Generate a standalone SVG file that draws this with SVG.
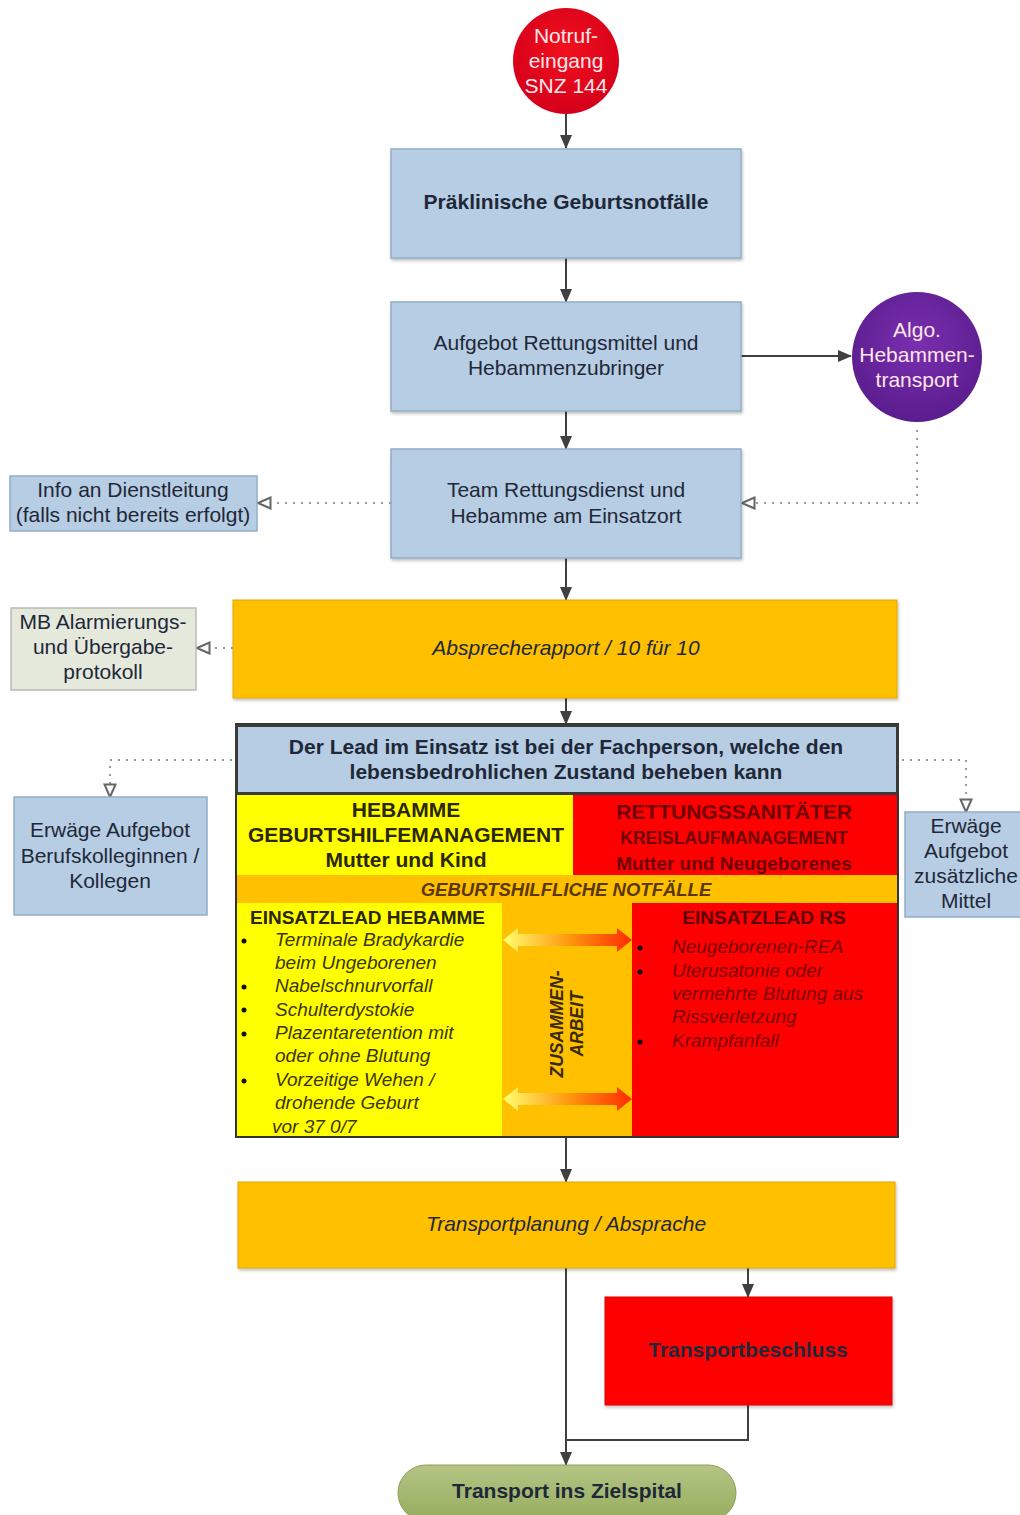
<svg xmlns="http://www.w3.org/2000/svg" width="1020" height="1515" viewBox="0 0 1020 1515">
<defs>
<marker id="ah" markerUnits="userSpaceOnUse" markerWidth="14" markerHeight="12" refX="13" refY="6" orient="auto">
<path d="M0,0 L14,6 L0,12 z" fill="#404040"/>
</marker>
<marker id="oh" markerUnits="userSpaceOnUse" markerWidth="16" markerHeight="14" refX="14" refY="7" orient="auto">
<path d="M1.5,1.5 L14,7 L1.5,12.5 z" fill="#fff" stroke="#666" stroke-width="2"/>
</marker>
<radialGradient id="gRed" cx="50%" cy="40%" r="60%">
<stop offset="0" stop-color="#f2101e"/><stop offset="1" stop-color="#d4001a"/>
</radialGradient>
<radialGradient id="gPur" cx="50%" cy="40%" r="60%">
<stop offset="0" stop-color="#7a2fb0"/><stop offset="1" stop-color="#5a1d8e"/>
</radialGradient>
<linearGradient id="gArr" x1="0" y1="0" x2="1" y2="0">
<stop offset="0" stop-color="#ffff70"/><stop offset="0.5" stop-color="#ff9a10"/><stop offset="1" stop-color="#ff2a00"/>
</linearGradient>
<linearGradient id="gGreen" x1="0" y1="0" x2="0" y2="1">
<stop offset="0" stop-color="#b4c585"/><stop offset="1" stop-color="#97ac5e"/>
</linearGradient>
<filter id="sh" x="-5%" y="-5%" width="110%" height="115%">
<feDropShadow dx="1" dy="2" stdDeviation="1.5" flood-color="#000" flood-opacity="0.25"/>
</filter>
</defs>
<style>
text{font-family:"Liberation Sans",Arial,sans-serif;}
.blue{fill:#b7cde3;stroke:#93adc8;stroke-width:1.5;}
.orange{fill:#ffc000;stroke:#e0a800;stroke-width:1;}
.bt{font-size:21px;fill:#1e2838;text-anchor:middle;}
.sm{font-size:21px;fill:#1e2838;text-anchor:middle;}
.b{font-weight:bold;}
.it{font-style:italic;}
.ct{font-size:21px;fill:#ffe6ea;text-anchor:middle;}
.li{font-size:19px;font-style:italic;fill:#3b3500;}
.lr{font-size:19px;font-style:italic;fill:#7a0000;}
.dot{fill:#111;}
.con{fill:none;stroke:#404040;stroke-width:2;}
.dash{fill:none;stroke:#999;stroke-width:2;stroke-dasharray:2 6;}
</style>

<g id="connectors">
<path class="con" d="M566,114 V148" marker-end="url(#ah)"/>
<path class="con" d="M566,258 V302" marker-end="url(#ah)"/>
<path class="con" d="M741,356 H851" marker-end="url(#ah)"/>
<path class="con" d="M566,411 V449" marker-end="url(#ah)"/>
<path class="con" d="M566,558 V600" marker-end="url(#ah)"/>
<path class="con" d="M566,698 V724" marker-end="url(#ah)"/>
<path class="con" d="M566,1138 V1182" marker-end="url(#ah)"/>
<path class="con" d="M748,1268 V1297" marker-end="url(#ah)"/>
<path class="con" d="M566,1268 V1465" marker-end="url(#ah)"/>
<path class="con" d="M748,1405 V1440 H566"/>
<path class="dash" d="M917,430 V503 H742" marker-end="url(#oh)"/>
<path class="dash" d="M391,503 H258" marker-end="url(#oh)"/>
<path class="dash" d="M233,648 H197" marker-end="url(#oh)"/>
<path class="dash" d="M232,760 H110 V797" marker-end="url(#oh)"/>
<path class="dash" d="M902,760 H966 V812" marker-end="url(#oh)"/>
</g>

<g id="notruf">
<circle cx="566" cy="61" r="53" fill="url(#gRed)"/>
<text class="ct" x="566" y="43">Notruf-</text>
<text class="ct" x="566" y="68">eingang</text>
<text class="ct" x="566" y="93">SNZ 144</text>
</g>

<g id="praeklinisch">
<rect class="blue" x="391" y="149" width="350" height="109" filter="url(#sh)"/>
<text class="bt b" x="566" y="209">Präklinische Geburtsnotfälle</text>
</g>

<g id="aufgebot">
<rect class="blue" x="391" y="302" width="350" height="109" filter="url(#sh)"/>
<text class="bt" x="566" y="350">Aufgebot Rettungsmittel und</text>
<text class="bt" x="566" y="375">Hebammenzubringer</text>
</g>

<g id="algo">
<circle cx="917" cy="357" r="65" fill="url(#gPur)"/>
<text class="ct" x="917" y="337">Algo.</text>
<text class="ct" x="917" y="362">Hebammen-</text>
<text class="ct" x="917" y="387">transport</text>
</g>

<g id="team">
<rect class="blue" x="391" y="449" width="350" height="109" filter="url(#sh)"/>
<text class="bt" x="566" y="497">Team Rettungsdienst und</text>
<text class="bt" x="566" y="523">Hebamme am Einsatzort</text>
</g>

<g id="info">
<rect class="blue" x="10" y="476" width="247" height="55"/>
<text class="sm" x="133" y="497">Info an Dienstleitung</text>
<text class="sm" x="133" y="522">(falls nicht bereits erfolgt)</text>
</g>

<g id="absprache">
<rect class="orange" x="233" y="600" width="664" height="98" filter="url(#sh)"/>
<text class="bt it" x="566" y="655" fill="#3a2a00">Absprecherapport / 10 für 10</text>
</g>

<g id="mb">
<rect x="11" y="608" width="185" height="82" fill="#e5e9dc" stroke="#b8bcae" stroke-width="1.5"/>
<text class="sm" x="103" y="629" fill="#222">MB Alarmierungs-</text>
<text class="sm" x="103" y="654" fill="#222">und Übergabe-</text>
<text class="sm" x="103" y="679" fill="#222">protokoll</text>
</g>

<g id="lead">
<rect x="237" y="795" width="336" height="80" fill="#ffff00"/>
<rect x="573" y="795" width="324" height="80" fill="#ff0000"/>
<rect x="237" y="875" width="660" height="28" fill="#ffc000"/>
<rect x="237" y="903" width="265" height="234" fill="#ffff00"/>
<rect x="502" y="903" width="130" height="234" fill="#ffc000"/>
<rect x="632" y="903" width="265" height="234" fill="#ff0000"/>
<rect x="236" y="724" width="662" height="413" fill="none" stroke="#333" stroke-width="2"/>
<rect x="236.5" y="725.5" width="661" height="68" fill="#b7cde3" stroke="#3a3a3a" stroke-width="3"/>
<text class="b" x="566" y="754" font-size="21" fill="#1e2838" text-anchor="middle">Der Lead im Einsatz ist bei der Fachperson, welche den</text>
<text class="b" x="566" y="779" font-size="21" fill="#1e2838" text-anchor="middle">lebensbedrohlichen Zustand beheben kann</text>
<text class="b" x="406" y="817" font-size="21" fill="#2a2600" text-anchor="middle">HEBAMME</text>
<text class="b" x="406" y="842" font-size="21" fill="#2a2600" text-anchor="middle">GEBURTSHILFEMANAGEMENT</text>
<text class="b" x="406" y="867" font-size="21" fill="#2a2600" text-anchor="middle">Mutter und Kind</text>
<text class="b" x="734" y="819" font-size="21" fill="#6e0000" text-anchor="middle">RETTUNGSSANITÄTER</text>
<text class="b" x="734" y="844" font-size="17.5" fill="#6e0000" text-anchor="middle">KREISLAUFMANAGEMENT</text>
<text class="b" x="734" y="870" font-size="19" fill="#6e0000" text-anchor="middle">Mutter und Neugeborenes</text>
<text class="b it" x="566" y="896" font-size="18.5" fill="#5a3800" text-anchor="middle">GEBURTSHILFLICHE NOTFÄLLE</text>
<text class="b" x="250" y="924" font-size="19" fill="#2a2600">EINSATZLEAD HEBAMME</text>
<circle class="dot" cx="244" cy="941" r="2.5"/>
<circle class="dot" cx="244" cy="987" r="2.5"/>
<circle class="dot" cx="244" cy="1010" r="2.5"/>
<circle class="dot" cx="244" cy="1034" r="2.5"/>
<circle class="dot" cx="244" cy="1081" r="2.5"/>
<text class="li" x="275" y="946">Terminale Bradykardie</text>
<text class="li" x="275" y="969">beim Ungeborenen</text>
<text class="li" x="275" y="992">Nabelschnurvorfall</text>
<text class="li" x="275" y="1016">Schulterdystokie</text>
<text class="li" x="275" y="1039">Plazentaretention mit</text>
<text class="li" x="275" y="1062">oder ohne Blutung</text>
<text class="li" x="275" y="1086">Vorzeitige Wehen /</text>
<text class="li" x="275" y="1109">drohende Geburt</text>
<text class="li" x="272" y="1133">vor 37 0/7</text>
<text class="b" x="764" y="924" font-size="19" fill="#5a0000" text-anchor="middle">EINSATZLEAD RS</text>
<circle class="dot" cx="640" cy="948" r="2.5"/>
<circle class="dot" cx="640" cy="972" r="2.5"/>
<circle class="dot" cx="640" cy="1042" r="2.5"/>
<text class="lr" x="672" y="953">Neugeborenen-REA</text>
<text class="lr" x="672" y="977">Uterusatonie oder</text>
<text class="lr" x="672" y="1000">vermehrte Blutung aus</text>
<text class="lr" x="672" y="1023">Rissverletzung</text>
<text class="lr" x="672" y="1047">Krampfanfall</text>
<polygon points="503,940 518,928 518,934 617,934 617,928 632,940 617,952 617,946 518,946 518,952" fill="url(#gArr)"/>
<polygon points="503,1099 518,1087 518,1093 617,1093 617,1087 632,1099 617,1111 617,1105 518,1105 518,1111" fill="url(#gArr)"/>
<g transform="translate(566,1024) rotate(-90)">
<text class="b it" x="0" y="-3" font-size="17.5" fill="#3a2a00" text-anchor="middle">ZUSAMMEN-</text>
<text class="b it" x="0" y="17" font-size="17.5" fill="#3a2a00" text-anchor="middle">ARBEIT</text>
</g>
</g>

<g id="kollegen">
<rect class="blue" x="14" y="797" width="193" height="118"/>
<text class="sm" x="110" y="837">Erwäge Aufgebot</text>
<text class="sm" x="110" y="863">Berufskolleginnen /</text>
<text class="sm" x="110" y="888">Kollegen</text>
</g>

<g id="mittel">
<rect class="blue" x="905" y="812" width="125" height="105"/>
<text class="sm" x="966" y="833">Erwäge</text>
<text class="sm" x="966" y="858">Aufgebot</text>
<text class="sm" x="966" y="883">zusätzliche</text>
<text class="sm" x="966" y="908">Mittel</text>
</g>

<g id="transportplanung">
<rect class="orange" x="238" y="1182" width="657" height="86" filter="url(#sh)"/>
<text class="bt it" x="566" y="1231" fill="#3a2a00">Transportplanung / Absprache</text>
</g>

<g id="transportbeschluss">
<rect x="605" y="1297" width="287" height="108" fill="#ff0000" stroke="#e00000" stroke-width="1" filter="url(#sh)"/>
<text class="bt b" x="748" y="1357" fill="#3a0000">Transportbeschluss</text>
</g>

<g id="zielspital">
<rect x="398" y="1465" width="338" height="56" rx="28" ry="28" fill="url(#gGreen)" stroke="#8a9e55" stroke-width="1"/>
<text class="bt b" x="567" y="1498" fill="#1e2a10">Transport ins Zielspital</text>
</g>
</svg>
